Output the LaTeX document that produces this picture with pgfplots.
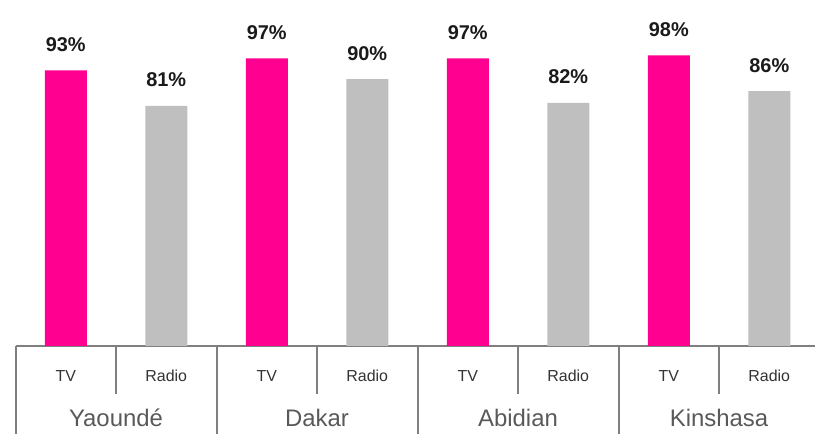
\documentclass[border=0pt]{standalone}
\usepackage{pgfplots}
\pgfplotsset{compat=1.18}
\usepackage{fontspec}
\setmainfont{Liberation Sans}
\definecolor{tvc}{HTML}{FF0090}
\definecolor{radc}{HTML}{BFBFBF}
\definecolor{linec}{HTML}{7F7F7F}
\definecolor{labc}{HTML}{1A1A1A}
\definecolor{catc}{HTML}{333333}
\definecolor{cityc}{HTML}{595959}
\begin{document}
\begin{tikzpicture}[x=1bp,y=1bp]
\useasboundingbox (0,0) rectangle (815,434);
\begin{axis}[
  at={(15.5bp,88bp)}, anchor=south west,
  scale only axis, width=799.5bp, height=346bp,
  xmin=-0.5, xmax=7.455, ymin=0, ymax=116.7,
  clip=false,
  axis x line=bottom, axis y line=none,
  x axis line style={-, draw=linec, line width=2bp},
  xtick={0,1,2,3,4,5,6,7},
  xticklabels={TV,Radio,TV,Radio,TV,Radio,TV,Radio},
  major tick length=0pt,
  xticklabel style={font=\fontsize{16}{16}\selectfont, text=catc, anchor=base, yshift=-36bp, inner sep=0pt},
  ytick=\empty,
  /pgf/number format/assume math mode=true,
  nodes near coords={\pgfmathprintnumber{\pgfplotspointmeta}\%},
  every node near coord/.append style={font=\fontsize{20}{20}\selectfont\bfseries, text=labc, anchor=base, yshift=19bp, inner sep=0pt},
]
\addplot[ybar, bar shift=0pt, bar width=42bp, fill=tvc, draw=none] coordinates {(0,93) (2,97) (4,97) (6,98)};
\addplot[ybar, bar shift=0pt, bar width=42bp, fill=radc, draw=none] coordinates {(1,81) (3,90) (5,82) (7,86)};
% separators of the category table
\foreach \xx in {-0.5,1.5,3.5,5.5} {
  \edef\temp{\noexpand\draw[linec, line width=2bp] (axis cs:\xx,0) -- ([yshift=-90bp]axis cs:\xx,0);}
  \temp
}
\foreach \xx in {0.5,2.5,4.5,6.5} {
  \edef\temp{\noexpand\draw[linec, line width=2bp] (axis cs:\xx,0) -- ([yshift=-48bp]axis cs:\xx,0);}
  \temp
}
\node[font=\fontsize{24}{24}\selectfont, text=cityc, anchor=base] at ([yshift=-81bp]axis cs:0.5,0) {Yaoundé};
\node[font=\fontsize{24}{24}\selectfont, text=cityc, anchor=base] at ([yshift=-81bp]axis cs:2.5,0) {Dakar};
\node[font=\fontsize{24}{24}\selectfont, text=cityc, anchor=base] at ([yshift=-81bp]axis cs:4.5,0) {Abidian};
\node[font=\fontsize{24}{24}\selectfont, text=cityc, anchor=base] at ([yshift=-81bp]axis cs:6.5,0) {Kinshasa};
\end{axis}
\end{tikzpicture}
\end{document}
